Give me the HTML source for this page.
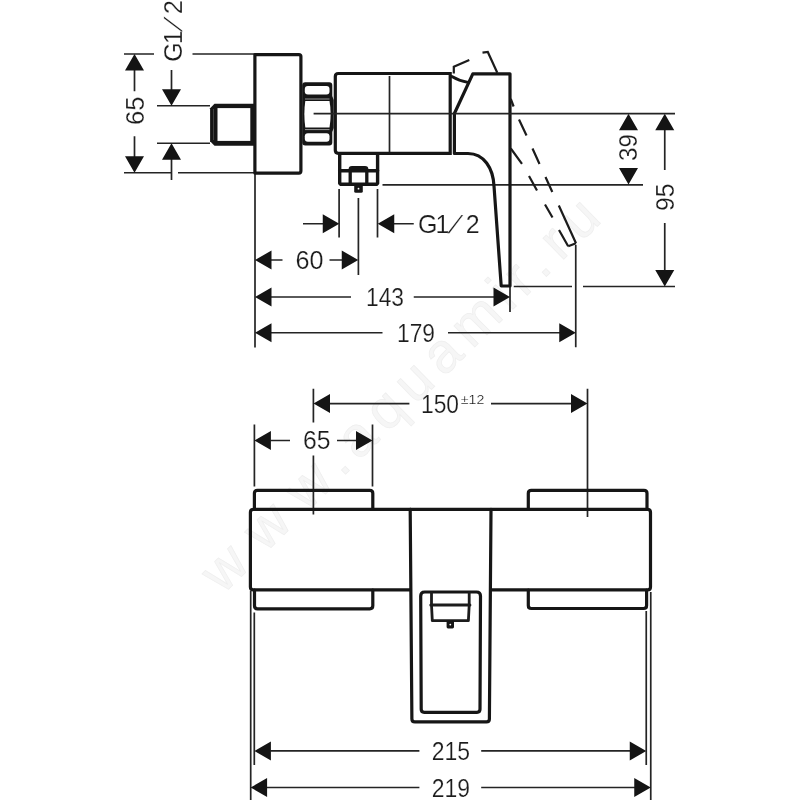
<!DOCTYPE html>
<html><head><meta charset="utf-8"><title>Drawing</title>
<style>
html,body{margin:0;padding:0;background:#fff;}
body{width:800px;height:800px;overflow:hidden;}
svg{display:block;}
text{font-family:"Liberation Sans",sans-serif;fill:#1a1a1a;}
.k{fill:none;stroke:#161616;stroke-width:3.2;stroke-linejoin:round;stroke-linecap:round;}
.m{fill:none;stroke:#1c1c1c;stroke-width:2.3;stroke-linejoin:round;stroke-linecap:round;}
.t{fill:none;stroke:#242424;stroke-width:1.7;}
.d{fill:none;stroke:#1c1c1c;stroke-width:2.2;}
.a{fill:#141414;stroke:none;}
.wm{font-family:"Liberation Sans",sans-serif;fill:#f6f6f6;stroke:#eeeeee;stroke-width:0.7;}
</style></head><body>
<svg width="800" height="800" viewBox="0 0 800 800">
<rect width="800" height="800" fill="#fff"/>
<!-- watermark -->
<g transform="translate(222.8,595) rotate(-44.55)"><text class="wm" x="0 59.6 117.7 167.2 190.5 230.3 270.1 309.9 349.7 403.5 423.2 449.1 474.6 502.6" y="0" font-size="56">www.aquamir.ru</text></g>

<!-- ===== SIDE VIEW ===== -->
<g id="side">
<!-- thin lines -->
<g class="t">
<path d="M124 54H154M192.5 54H255"/>
<path d="M157 105.75H210M157 143.25H210"/>
<path d="M124 172.75H172M178 172.75H255"/>
<path d="M134.5 70V91.25M134.5 136.25V157"/>
<path d="M171.5 70V90M171.5 159V180"/>
<path d="M255 173V347.5"/>


<path d="M382.5 184.9H643"/>
<path d="M339.1 188.9V237.5M377.5 188.9V237.5M358.4 197.9V275"/>
<path d="M303 223.75H323M394 223.75H413.75"/>
<path d="M271 260H282.5M329.5 260H342.5"/>
<path d="M271 297H351M413.75 297H494"/>
<path d="M271 332.75H382.5M448 332.75H560"/>
<path d="M510 287V312M575.75 245V347.3"/>
<path d="M513.75 286.5H572M583 286.5H675"/>
<path d="M664.75 130V170M664.75 223V270"/>
</g>
<!-- arrows -->
<g class="a">
<path d="M134.5 54l-9.5 16.5h19zM134.5 172.75l-9.5 -16.5h19z"/>
<path d="M171.5 105.75l-9.5 -16.5h19zM171.5 143.25l-9.5 16.5h19z"/>
<path d="M339.25 223.75l-16.5 -9.5v19zM377.75 223.75l16.5 -9.5v19z"/>
<path d="M255 260l16.5 -9.5v19zM358.25 260l-16.5 -9.5v19z"/>
<path d="M255 297l16.5 -9.5v19zM510 297l-16.5 -9.5v19z"/>
<path d="M255 332.75l16.5 -9.5v19zM575.75 332.75l-16.5 -9.5v19z"/>
<path d="M628.5 113.75l-9.5 16.5h19zM628.5 184.5l-9.5 -16.5h19z"/>
<path d="M664.75 113.75l-9.5 16.5h19zM664.75 286.5l-9.5 -16.5h19z"/>
</g>
<!-- body -->
<g class="k">
<path d="M254.9 54.6H298.9Q300.9 54.6 300.9 56.6V171.1Q300.9 173.1 298.9 173.1H254.9Z"/>
</g>
<path fill="#161616" d="M214.5 103.75H255V145.7H214.5L210.1 141.3V108.15Z"/>
<rect x="217.5" y="108.1" width="32.8" height="32.8" fill="#fff"/>
<path d="M213.7 109V140" stroke="#fff" stroke-width="0.5" opacity="0.45"/>

<!-- nut -->
<path fill="#161616" d="M302.2 85.3Q302.2 82.3 305.2 82.3H329.3Q332.3 82.3 332.3 85.3V96L333.7 100V128L332.3 132V142.4Q332.3 145.4 329.3 145.4H305.2Q302.2 145.4 302.2 142.4Z"/>
<rect x="304.8" y="85.9" width="24.7" height="8.5" rx="3" fill="#fff"/>
<rect x="304.8" y="133.3" width="24.7" height="8.5" rx="3" fill="#fff"/>
<path fill="#fff" d="M305.3 101.1H329.5Q331.8 113.75 329.5 127.4H305.3Q303.4 113.75 305.3 101.1Z"/>
<path d="M305 99H329.5M305 129.6H329.5" stroke="#fff" stroke-width="0.7" opacity="0.8"/>
<g class="k">
<!-- main body -->
<path d="M450.2 73.5H338.3Q335.3 73.5 335.3 76.5V150.3Q335.3 153.3 338.3 153.3H450.2Z" style="stroke-linejoin:miter"/>
<!-- connector -->
<path d="M339.7 154V183.2L340.7 184.2H376.6L377.6 183.2V154" style="stroke-width:3.4"/>
<path d="M339.7 170.7H377.6" style="stroke-width:3.4"/>
<path d="M350.2 184V169.4Q350.2 167.6 352 167.6H365Q366.8 167.6 366.8 169.4V184" style="stroke-width:3.3"/>
<rect x="354.2" y="184" width="8.6" height="8.8" rx="1.6" style="fill:#161616;stroke:none"/>
<circle cx="358.5" cy="188.7" r="0.9" style="fill:#fff;stroke:none"/>
<!-- handle -->
<path d="M472.8 73.8H510V286H501.2L494 186C493 168 484 153.6 468 153.5H454.4V113.5Z"/>
<path d="M451.9 76.5Q459 80.8 468 82.4" style="stroke-width:2.8"/>
</g>
<path class="t" d="M313.6 113.6H675M389.5 76V152"/>
<!-- dashed -->
<g class="d">
<path d="M453.8 73.5V66.8L469.3 60.1"/>
<path d="M482.5 52.7L487.8 52L497.3 72.8"/>
<path d="M510.8 99L513.6 106.5M519 119.5L526.5 135.5M532.5 148.5L539.5 164M545.5 177L552.3 192M558.8 205.5L576 243.2"/>
<path d="M510.8 148.5L522 163.8M529 176L537 190.5M545 204.5L552.5 217.5M559 230L568.2 246.3"/>
<path d="M568.2 246.3L576 243.2"/>
</g>
</g>

<!-- ===== FRONT VIEW ===== -->
<g id="front">
<g class="t">
<path d="M313.4 388.75V422.6M313.4 455.6V514.5M587.5 388.75V517"/>
<path d="M329.5 403.6H409.4M491 403.6H571.5"/>
<path d="M254.4 424.5V486.5M372.5 424.5V486.5"/>
<path d="M270.5 440.5H290M337 440.5H356.5"/>
<path d="M250.7 591V800M254.3 612.5V765"/>
<path d="M646.25 611V765M650.75 592V800"/>
<path d="M270.5 750.8H419.4M481.2 750.8H630.5"/>
<path d="M266.5 787.5H419.4M481.2 787.5H635"/>
</g>
<g class="a">
<path d="M313.5 403.6l16.5 -9.5v19zM587.5 403.6l-16.5 -9.5v19z"/>
<path d="M254.4 440.5l16.5 -9.5v19zM372.5 440.5l-16.5 -9.5v19z"/>
<path d="M254.4 751l16.5 -9.5v19zM646.25 751l-16.5 -9.5v19z"/>
<path d="M250.6 787.5l16.5 -9.5v19zM650.75 787.5l-16.5 -9.5v19z"/>
</g>
<g class="k">
<!-- knobs -->
<path d="M254.4 509V493.3Q254.4 490.4 257.4 490.4H369.8Q372.8 490.4 372.8 493.3V509"/>
<path d="M528.3 509V493.3Q528.3 490.4 531.3 490.4H644Q647 490.4 647 493.3V509"/>
<path d="M254.5 590V605.8Q254.5 608.8 257.5 608.8H369.8Q372.8 608.8 372.8 605.8V590"/>
<path d="M528.3 590V605.5Q528.3 608.5 531.3 608.5H643.6Q646.6 608.5 646.6 605.5V590"/>
<!-- body -->
<path d="M410.2 509.4H253.4Q250.4 509.4 250.4 512.4V586.9Q250.4 589.9 253.4 589.9H410.5"/>
<path d="M410.2 509.4H647.5Q650.5 509.4 650.5 512.4V586.9Q650.5 589.9 647.5 589.9H491"/>
<!-- handle block -->
<path d="M410.2 509.4L411.9 718.9Q411.9 721.9 414.9 721.9H486.4Q489.4 721.9 489.4 718.9L491 509.4"/>
<path d="M421.2 709.3L420.7 596Q420.7 592 424.7 592H476.5Q480.5 592 480.5 596L480 709.3Q480 712.3 477 712.3H424.2Q421.2 712.3 421.2 709.3Z"/>
</g>
<g class="m">
<path d="M431.5 593V605L432.3 620.6H468.4L469.2 605V593" style="stroke-width:2.8"/>
<path d="M430.8 605H469.9" style="stroke-width:3"/>
<rect x="446.6" y="620.6" width="7.4" height="7.8" rx="1.4" style="fill:#161616;stroke:none"/><circle cx="450.3" cy="624.6" r="0.9" style="fill:#fff;stroke:none"/>
</g>
</g>

<!-- ===== TEXT ===== -->
<g font-size="25" opacity="0.99" stroke="#fff" stroke-width="0.2">
<text x="295.5" y="268.7" textLength="28" lengthAdjust="spacingAndGlyphs">60</text>
<text x="366" y="305.7" textLength="38" lengthAdjust="spacingAndGlyphs">143</text>
<text x="397" y="341.5" textLength="38" lengthAdjust="spacingAndGlyphs">179</text>
<text x="418 435.5" y="232.9">G1</text><text transform="translate(447.6,232.9) skewX(-26)">/</text><text x="465.8" y="232.9">2</text>
<text x="303" y="449.2" textLength="27.5" lengthAdjust="spacingAndGlyphs">65</text>
<text x="421" y="412.7" textLength="38" lengthAdjust="spacingAndGlyphs">150</text>
<text x="460.8" y="404.4" font-size="13.5" textLength="23.5" lengthAdjust="spacingAndGlyphs">±12</text>
<text x="431.8" y="759.8" textLength="38.3" lengthAdjust="spacingAndGlyphs">215</text>
<text x="431.8" y="797.2" textLength="38.3" lengthAdjust="spacingAndGlyphs">219</text>
<text transform="translate(143.5,125) rotate(-90)" textLength="28.5" lengthAdjust="spacingAndGlyphs">65</text>
<text transform="translate(182.2,61.8) rotate(-90)" x="0 17.5">G1</text><text transform="translate(182.2,61.8) rotate(-90) translate(29.6,0) skewX(-26)">/</text><text transform="translate(182.2,61.8) rotate(-90)" x="47.8">2</text>
<text transform="translate(637.2,161) rotate(-90)" textLength="27" lengthAdjust="spacingAndGlyphs">39</text>
<text transform="translate(673.5,211) rotate(-90)" textLength="27.5" lengthAdjust="spacingAndGlyphs">95</text>
</g>
</svg>
</body></html>
